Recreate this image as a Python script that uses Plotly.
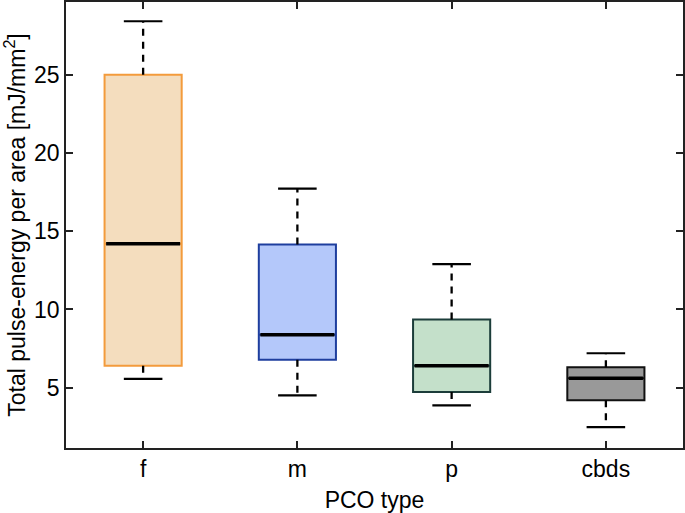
import plotly.graph_objects as go

categories = ["f", "m", "p", "cbds"]
q1 = [6.4, 6.78, 4.72, 4.2]
median = [14.2, 8.38, 6.4, 5.6]
q3 = [25.0, 14.15, 9.35, 6.3]
lower_whisker = [5.56, 4.5, 3.86, 2.47]
upper_whisker = [28.43, 17.72, 12.9, 7.2]

fill_colors = ["#F4DDBE", "#B4C8FA", "#C4E0CA", "#999999"]
line_colors = ["#F39B3C", "#1E3E9E", "#1C3D3A", "#111111"]

BOX_W = 0.5
CAP_W = 0.25
positions = list(range(len(categories)))

fig = go.Figure()

for i, cat in enumerate(categories):
    fig.add_trace(go.Box(
        x=[positions[i]], q1=[q1[i]], median=[median[i]], q3=[q3[i]],
        lowerfence=[q1[i]], upperfence=[q3[i]],
        width=BOX_W, whiskerwidth=0,
        fillcolor=fill_colors[i],
        line=dict(color=line_colors[i], width=2),
        boxpoints=False, hoverinfo="skip", name=cat, showlegend=False,
    ))

for i, cat in enumerate(categories):
    x0 = positions[i]
    # dashed whiskers
    fig.add_trace(go.Scatter(
        x=[x0, x0, None, x0, x0],
        y=[q3[i], upper_whisker[i], None, q1[i], lower_whisker[i]],
        mode="lines", line=dict(color="black", width=2.3, dash="7px,6px"),
        hoverinfo="skip", showlegend=False,
    ))
    # caps
    fig.add_trace(go.Scatter(
        x=[x0 - CAP_W / 2, x0 + CAP_W / 2, None, x0 - CAP_W / 2, x0 + CAP_W / 2],
        y=[upper_whisker[i], upper_whisker[i], None, lower_whisker[i], lower_whisker[i]],
        mode="lines", line=dict(color="black", width=2.2),
        hoverinfo="skip", showlegend=False,
    ))
    # median
    fig.add_trace(go.Scatter(
        x=[x0 - BOX_W / 2 + 0.01, x0 + BOX_W / 2 - 0.01],
        y=[median[i], median[i]],
        mode="lines", line=dict(color="black", width=3.5),
        hoverinfo="skip", showlegend=False,
    ))

font_family = "Liberation Sans, Arial, Helvetica, sans-serif"

fig.update_layout(
    width=685, height=513,
    margin=dict(l=66, r=2, t=2, b=65, autoexpand=False),
    paper_bgcolor="white", plot_bgcolor="white",
    font=dict(family=font_family, size=23, color="black"),
    showlegend=False,
)

fig.update_xaxes(
    range=[-0.5, 3.5], automargin=False,
    tickmode="array", tickvals=positions, ticktext=categories,
    ticks="inside", ticklen=7, tickwidth=1.5, tickcolor="#222",
    showline=True, linecolor="#222", linewidth=1.5, mirror="ticks",
    showgrid=False, zeroline=False,
    title=dict(text="PCO type", standoff=14, font=dict(size=23)),
    tickfont=dict(size=23),
)

fig.update_yaxes(
    range=[1.14, 29.66], automargin=False,
    tickmode="array", tickvals=[5, 10, 15, 20, 25],
    ticks="inside", ticklen=7, tickwidth=1.5, tickcolor="#222",
    showline=True, linecolor="#222", linewidth=1.5, mirror="ticks",
    showgrid=False, zeroline=False,
    title=dict(text="Total pulse-energy per area [mJ/mm<sup>2</sup>]", standoff=8, font=dict(size=23)),
    tickfont=dict(size=23),
)

fig.write_html("out.html", config={"displayModeBar": False},
               post_script="document.body.style.margin='0';")
